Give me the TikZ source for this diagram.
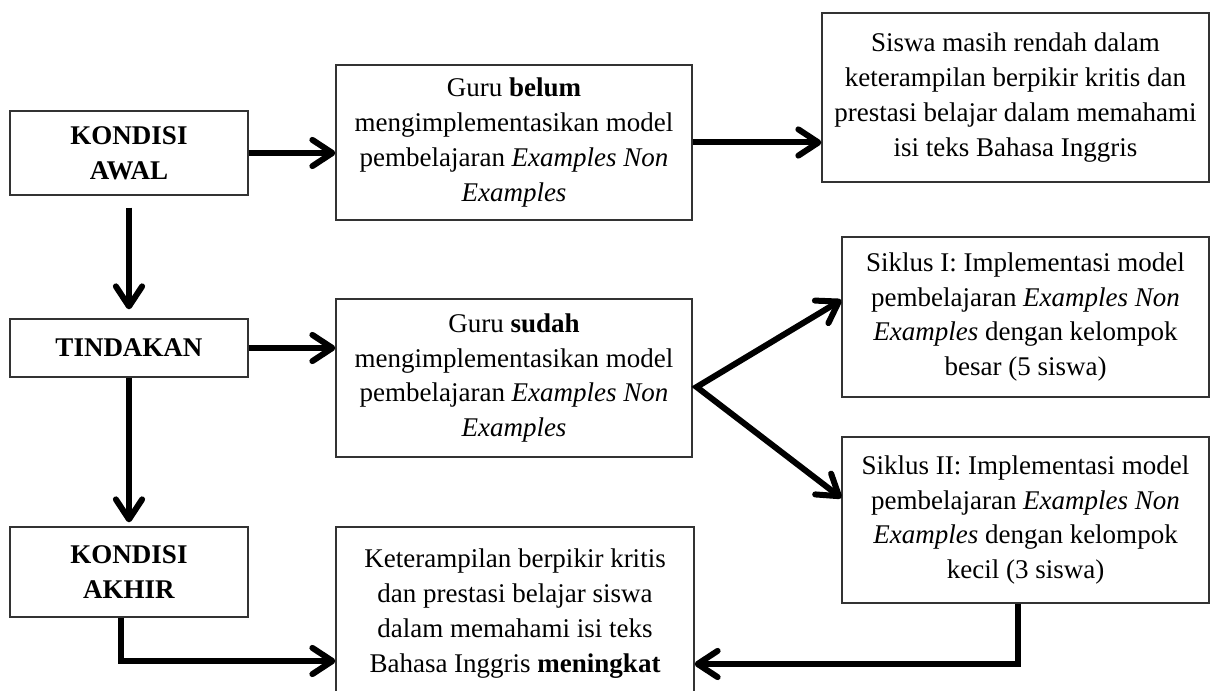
\documentclass[tikz,border=0pt]{standalone}
\usepackage{fontspec}
\setmainfont{Liberation Serif}
\usetikzlibrary{calc}
\usetikzlibrary{arrows.meta}

\tikzset{
    panah/.tip={Straight Barb[round, length=8pt, width=10.5pt]},
    kotak/.style={draw=black!80, line width=0.5pt, align=center, inner sep=0pt,
        font=\fontsize{10.8}{13.9}\selectfont},
    arr/.style={line width=2.4pt, -panah},
}

\begin{document}
\begin{tikzpicture}[x=0.4pt, y=-0.4pt]
\useasboundingbox (0,0) rectangle (1211,691);
\clip (0,0) rectangle (1211,691);

    % kolom kiri
    \node[kotak, minimum width=95.2pt, minimum height=33.6pt] (awal) at (129, 153) {\textbf{KONDISI}\\\textbf{AWAL}};
    \node[kotak, minimum width=95.2pt, minimum height=23.2pt] (tindakan) at (129, 348) {\textbf{TINDAKAN}};
    \node[kotak, minimum width=95.2pt, minimum height=36pt] (akhir) at (129, 572) {\textbf{KONDISI}\\\textbf{AKHIR}};

    % kolom tengah
    \node[kotak, minimum width=142.4pt, minimum height=62pt] (belum) at (514, 142.5)
        {Guru \textbf{belum}\\mengimplementasikan model\\pembelajaran \textit{Examples Non}\\\textit{Examples}};
    \node[kotak, minimum width=142.4pt, minimum height=63.2pt] (sudah) at (514, 378)
        {Guru \textbf{sudah}\\mengimplementasikan model\\pembelajaran \textit{Examples Non}\\\textit{Examples}};
    \node[kotak, minimum width=143.2pt, minimum height=69.2pt] (naik) at (515, 613.5)
        {Keterampilan berpikir kritis\\dan prestasi belajar siswa\\dalam memahami isi teks\\Bahasa Inggris \textbf{meningkat}};

    % kolom kanan
    \node[kotak, minimum width=154.8pt, minimum height=67.6pt] (rendah) at (1015.5, 97.5)
        {Siswa masih rendah dalam\\keterampilan berpikir kritis dan\\prestasi belajar dalam memahami\\isi teks Bahasa Inggris};
    \node[kotak, minimum width=146.8pt, minimum height=64pt] (siklus1) at (1025.5, 317)
        {Siklus I: Implementasi model\\pembelajaran \textit{Examples Non}\\\textit{Examples} dengan kelompok\\besar (5 siswa)};
    \node[kotak, minimum width=146.8pt, minimum height=66.4pt] (siklus2) at (1025.5, 520)
        {Siklus II: Implementasi model\\pembelajaran \textit{Examples Non}\\\textit{Examples} dengan kelompok\\kecil (3 siswa)};

    % panah
    \draw[arr] (awal.east) -- (awal.east -| belum.west);
    \draw[arr] (belum.east) -- (belum.east -| rendah.west);
    \draw[arr] (tindakan.east) -- (tindakan.east -| sudah.west);
    \draw[arr, shorten <=4.8pt, shorten >=3.6pt] (awal.south) -- (tindakan.north);
    \draw[arr, shorten >=1.6pt] (tindakan.south) -- (akhir.north);

    \coordinate (cabang) at ([xshift=1.6pt, yshift=-3.6pt]sudah.east);
    \draw[arr, panah-panah] ([yshift=6.8pt]siklus1.west) -- (cabang) -- ([yshift=8.8pt]siklus2.west);

    \draw[arr] ([xshift=-3.2pt]akhir.south) |- ([yshift=-19pt]naik.west);
    \draw[arr] ([xshift=-3pt]siklus2.south) |- ([yshift=-20.2pt]naik.east);

\end{tikzpicture}
\end{document}
